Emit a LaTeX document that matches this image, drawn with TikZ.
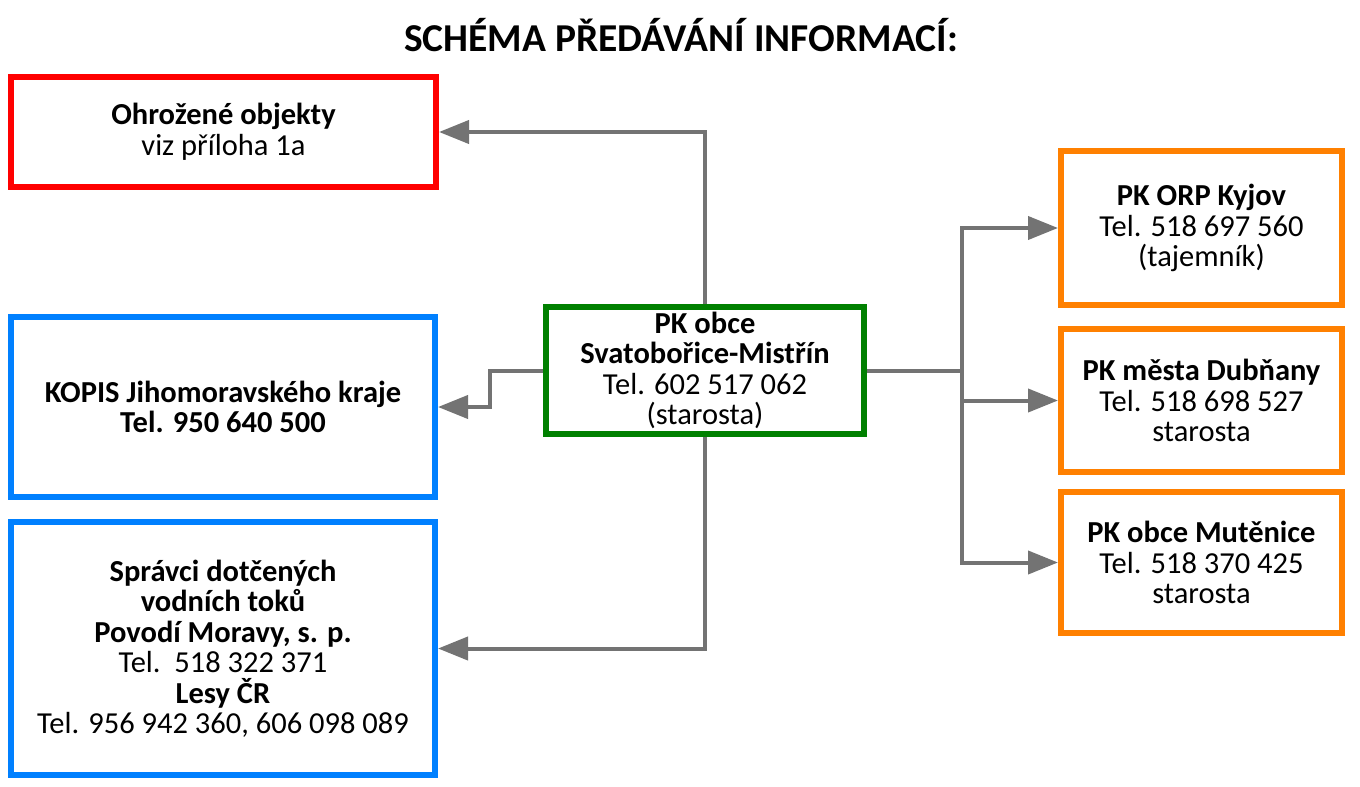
\documentclass[tikz,border=0pt]{standalone}
\usepackage{fontspec}
\setmainfont{Carlito}
\usetikzlibrary{arrows.meta}
\definecolor{cred}{HTML}{FF0000}
\definecolor{cblue}{HTML}{0080FF}
\definecolor{cgreen}{HTML}{008000}
\definecolor{corange}{HTML}{FF8000}
\definecolor{cgray}{HTML}{737373}
\begin{document}
\begin{tikzpicture}[x=1pt,y=-1pt,
  box/.style={draw,line width=6pt,fill=white,align=center,inner sep=0pt,
    font=\fontsize{30.5}{30.5}\selectfont},
  conn/.style={draw=cgray,line width=4pt,-{Triangle[length=30pt,width=23pt]}}]
\useasboundingbox (0,0) rectangle (1360,787);
\node[font=\bfseries\fontsize{39.5}{44}\selectfont] (title) at (681,35) {SCHÉMA PŘEDÁVÁNÍ INFORMACÍ:};
\node[box,draw=cred,minimum width=425pt,minimum height=110pt] (red) at (223.5,132)
  {\textbf{Ohrožené objekty}\\viz příloha 1a};
\node[box,draw=cblue,minimum width=424pt,minimum height=180pt] (kopis) at (223,407)
  {\textbf{KOPIS Jihomoravského kraje}\\\textbf{Tel. 950 640 500}};
\node[box,draw=cblue,minimum width=424pt,minimum height=253pt] (spr) at (223,648.5)
  {\textbf{Správci dotčených}\\\textbf{vodních toků}\\\textbf{Povodí Moravy, s. p.}\\Tel.\ \ 518 322 371\\\textbf{Lesy ČR}\\Tel. 956 942 360, 606 098 089};
\node[box,draw=cgreen,minimum width=318pt,minimum height=127pt] (green) at (705,370.5)
  {\textbf{PK obce}\\\textbf{Svatobořice-Mistřín}\\Tel. 602 517 062\\(starosta)};
\node[box,draw=corange,minimum width=281pt,minimum height=154pt] (o1) at (1201.5,228)
  {\textbf{PK ORP Kyjov}\\Tel. 518 697 560\\(tajemník)};
\node[box,draw=corange,minimum width=281pt,minimum height=143pt] (o2) at (1201.5,400.5)
  {\textbf{PK města Dubňany}\\Tel. 518 698 527\\starosta};
\node[box,draw=corange,minimum width=281pt,minimum height=141pt] (o3) at (1201.5,562.5)
  {\textbf{PK obce Mutěnice}\\Tel. 518 370 425\\starosta};
\coordinate (trunk) at (962,370.5);
\draw[conn] (green.north) |- (red.east);
\draw[conn] (green.west) -- ++(-53,0) |- (kopis.east);
\draw[conn] (green.south) |- (spr.east);
\draw[draw=cgray,line width=4pt] (green.east) -- (trunk);
\draw[conn] (trunk) |- (o1.west);
\draw[conn] (trunk) |- (o2.west);
\draw[conn] (trunk) |- (o3.west);
\end{tikzpicture}
\end{document}
